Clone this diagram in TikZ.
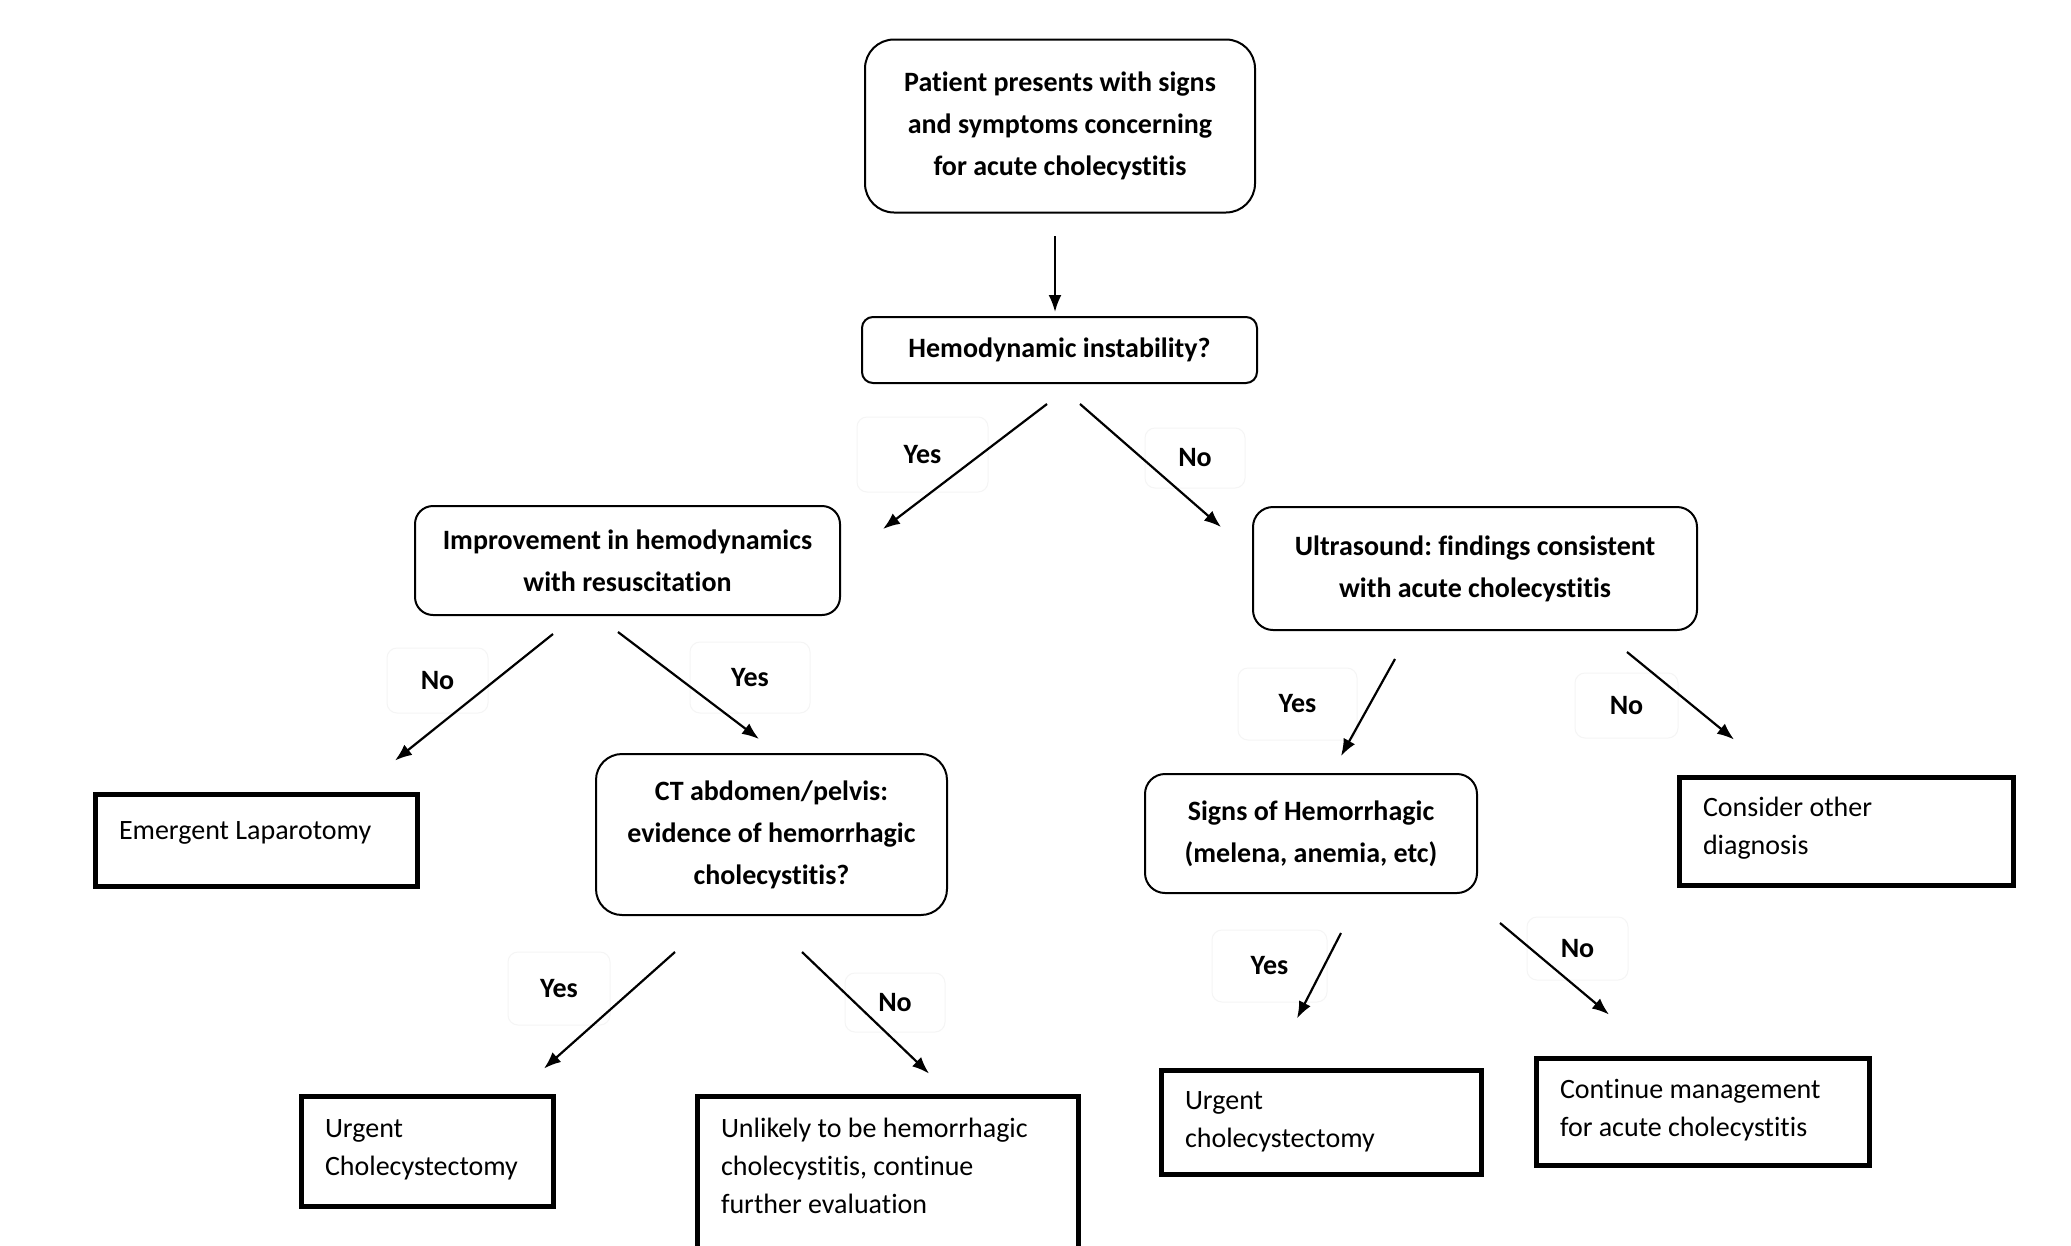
\documentclass[tikz,border=0pt]{standalone}
\usepackage{fontspec}
\setmainfont{Carlito}[Ligatures=NoCommon]
\frenchspacing
\usetikzlibrary{arrows.meta}
\newcommand{\tbx}[4]{\parbox[c][#2][t]{#1}{\raggedright\leftskip=24pt\fontsize{28}{38}\selectfont\rule{0pt}{#3}#4}}
\tikzset{
  rbox/.style={draw, line width=2pt, align=center, inner sep=0pt, font=\bfseries\fontsize{28}{42}\selectfont},
  tbox/.style={draw, line width=5pt, inner sep=0pt},
  lbl/.style={draw=black!4, line width=1pt, rounded corners=10pt, inner sep=0pt, font=\bfseries\fontsize{28}{34}\selectfont},
  arr/.style={line width=2.2pt, -{Latex[length=17pt,width=13pt]}}
}
\begin{document}
\begin{tikzpicture}[x=1pt,y=-1pt]
\useasboundingbox[fill=white] (0,0) rectangle (2071,1245);
% rounded decision boxes
\node[rbox, minimum width=390pt, minimum height=173pt, rounded corners=29pt] (top) at (1060,126)
  {Patient presents with signs\\and symptoms concerning\\for acute cholecystitis};
\node[rbox, minimum width=395pt, minimum height=66pt, rounded corners=11pt] (hemo) at (1059.5,350)
  {Hemodynamic instability?};
\node[rbox, minimum width=425pt, minimum height=109pt, rounded corners=18pt] (imp) at (627.5,560.5)
  {Improvement in hemodynamics\\with resuscitation};
\node[rbox, minimum width=444pt, minimum height=123pt, rounded corners=20pt] (us) at (1475,568.5)
  {Ultrasound: findings consistent\\with acute cholecystitis};
\node[rbox, minimum width=351pt, minimum height=161pt, rounded corners=26pt] (ct) at (771.5,834.5)
  {CT abdomen/pelvis:\\evidence of hemorrhagic\\cholecystitis?};
\node[rbox, minimum width=332pt, minimum height=119pt, rounded corners=20pt] (signs) at (1311,833.5)
  {Signs of Hemorrhagic\\(melena, anemia, etc)};
% thick outcome boxes
\node[tbox] (emerg) at (256,840) {\tbx{322pt}{92pt}{45pt}{\mbox{Emergent Laparotomy}}};
\node[tbox] (consider) at (1846,831) {\tbx{334pt}{108pt}{39pt}{\mbox{Consider other}\\\mbox{diagnosis}}};
\node[tbox] (urgL) at (427,1151) {\tbx{252pt}{110pt}{41pt}{\mbox{Urgent}\\\mbox{Cholecystectomy}}};
\node[tbox] (unlikely) at (887.5,1196) {\tbx{381pt}{200pt}{41pt}{\mbox{Unlikely to be hemorrhagic}\\\mbox{cholecystitis, continue}\\\mbox{further evaluation}}};
\node[tbox] (urgR) at (1321,1122) {\tbx{320pt}{104pt}{39pt}{\mbox{Urgent}\\\mbox{cholecystectomy}}};
\node[tbox] (cont) at (1702.5,1111.5) {\tbx{333pt}{107pt}{40pt}{\mbox{Continue management}\\\mbox{for acute cholecystitis}}};
% labels
\node[lbl, minimum width=131pt, minimum height=75pt] (l1) at (922.5,454.5) {Yes};
\node[lbl, minimum width=100pt, minimum height=60pt] (l2) at (1195,458) {No};
\node[lbl, minimum width=101pt, minimum height=65pt] (l3) at (437.5,680.5) {No};
\node[lbl, minimum width=120pt, minimum height=71pt] (l4) at (750,677.5) {Yes};
\node[lbl, minimum width=119pt, minimum height=72pt] (l5) at (1297.5,704) {Yes};
\node[lbl, minimum width=103pt, minimum height=65pt] (l6) at (1626.5,705.5) {No};
\node[lbl, minimum width=102pt, minimum height=73pt] (l7) at (559,988.5) {Yes};
\node[lbl, minimum width=100pt, minimum height=59pt] (l8) at (895,1002.5) {No};
\node[lbl, minimum width=115pt, minimum height=72pt] (l9) at (1269.5,966) {Yes};
\node[lbl, minimum width=101pt, minimum height=63pt] (l10) at (1577.5,948.5) {No};
% connectors
\draw[arr] ([shift={(-5,22.5)}]top.south) -- ([shift={(-4.5,-4)}]hemo.north);
\draw[arr] ([shift={(-12.5,20)}]hemo.south) -- ([shift={(42,24)}]imp.north east);
\draw[arr] ([shift={(20.5,20)}]hemo.south) -- ([shift={(-31,21)}]us.north west);
\draw[arr] ([shift={(-74.5,18)}]imp.south) -- ([shift={(139,-31)}]emerg.north);
\draw[arr] ([shift={(-9.5,16)}]imp.south) -- ([shift={(-12.5,-14)}]ct.north);
\draw[arr] ([shift={(-80,28)}]us.south) -- ([shift={(30,-17)}]signs.north);
\draw[arr] ([shift={(152,21)}]us.south) -- ([shift={(-112,-35)}]consider.north);
\draw[arr] ([shift={(-96.5,36)}]ct.south) -- ([shift={(117,-25)}]urgL.north);
\draw[arr] ([shift={(30.5,36)}]ct.south) -- ([shift={(41.5,-20)}]unlikely.north);
\draw[arr] ([shift={(30,39)}]signs.south) -- ([shift={(-24,-49)}]urgR.north);
\draw[arr] ([shift={(189,29)}]signs.south) -- ([shift={(-93.5,-41)}]cont.north);
\end{tikzpicture}
\end{document}
